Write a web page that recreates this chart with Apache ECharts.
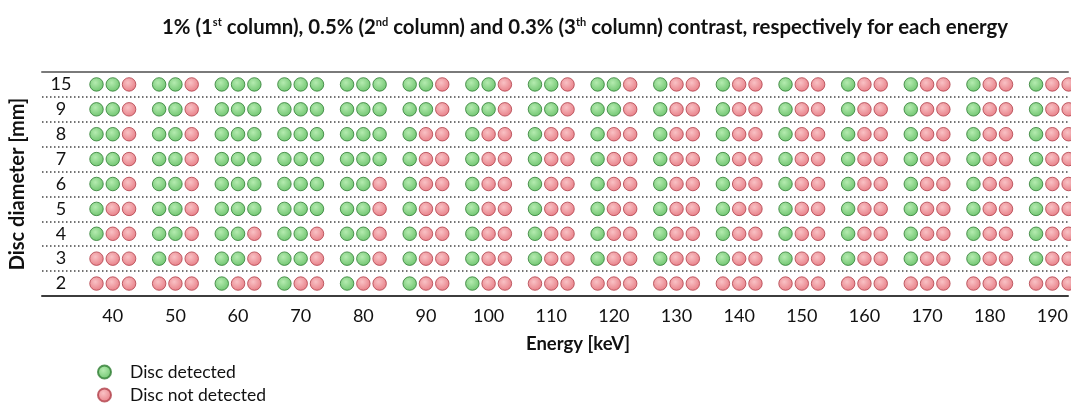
<!DOCTYPE html>
<html>
<head>
<meta charset="utf-8">
<script src="https://cdn.jsdelivr.net/npm/echarts@6/dist/echarts.min.js"></script>
<style>
  html, body { margin: 0; padding: 0; background: #fff; overflow: hidden; }
  #chart { width: 1071px; height: 403px; }
</style>
</head>
<body>
<div id="chart"></div>
<script>
// Tube energies (keV), one group of three discs per energy
const energies = [40, 50, 60, 70, 80, 90, 100, 110, 120, 130, 140, 150, 160, 170, 180, 190];
// Disc diameters (mm), listed bottom to top
const diameters = ['2', '3', '4', '5', '6', '7', '8', '9', '15'];
// Contrast levels, left to right inside each energy group
const contrasts = ['1%', '0.5%', '0.3%'];
// Horizontal spread of the three contrast columns around each energy (keV)
const contrastShift = [-2.6, 0, 2.6];
// Observer result per diameter (same order as diameters); one triplet per energy,
// G = disc detected, R = disc not detected, in contrast order 1%, 0.5%, 0.3%
const detectionRows = [
  'RRR RRR GRR GRR GRR GRR GRR RRR RRR RRR RRR RRR RRR RRR RRR RRR', // 2
  'RRR GRR GGR GGR GGR GRR GRR GRR GRR GRR GRR GRR GRR GRR GRR GRR', // 3
  'GRR GGR GGR GGR GGR GRR GRR GRR GRR GRR GRR GRR GRR GRR GRR GRR', // 4
  'GRR GGR GGG GGG GGR GRR GRR GRR GRR GRR GRR GRR GRR GRR GRR GRR', // 5
  'GGR GGR GGG GGG GGR GRR GRR GRR GRR GRR GRR GRR GRR GRR GRR GRR', // 6
  'GGR GGR GGG GGG GGG GRR GRR GRR GRR GRR GRR GRR GRR GRR GRR GRR', // 7
  'GGR GGR GGG GGG GGG GRR GRR GRR GRR GRR GRR GRR GRR GRR GRR GRR', // 8
  'GGR GGR GGG GGG GGG GGR GGR GGR GGR GRR GRR GRR GRR GRR GRR GRR', // 9
  'GGR GGR GGG GGG GGG GGR GGR GGR GGR GRR GRR GRR GRR GRR GRR GRR'  // 15
];
const seriesNames = ['Disc detected', 'Disc not detected'];

const detected = [];
const notDetected = [];
detectionRows.forEach(function (row, r) {
  row.split(' ').forEach(function (triplet, e) {
    for (let c = 0; c < contrasts.length; c++) {
      const point = [energies[e] + contrastShift[c], diameters[r]];
      (triplet[c] === 'G' ? detected : notDetected).push(point);
    }
  });
});

function discFill(light, dark) {
  return {
    type: 'radial', x: 0.42, y: 0.38, r: 0.62,
    colorStops: [{ offset: 0, color: light }, { offset: 1, color: dark }]
  };
}

const FONT = 'Lato, "Open Sans", sans-serif';
const legendText = { fontFamily: FONT, fontSize: 17.5, color: '#111', padding: [0, 0, 0, 14] };

function legendFor(name, top) {
  return {
    data: [name],
    orient: 'vertical',
    left: 92,
    top: top,
    itemWidth: 13,
    itemHeight: 13,
    icon: 'circle',
    selectedMode: false,
    textStyle: legendText
  };
}

// x range: the plot ends at the page edge, cutting through the last energy group
const X_MIN = 28.7;
const X_MAX = 192.5;

const chart = echarts.init(document.getElementById('chart'), null, { renderer: 'canvas' });

chart.setOption({
  animation: false,
  backgroundColor: '#ffffff',
  textStyle: { fontFamily: FONT },
  title: {
    text: '1% (1{sup|st} column), 0.5% (2{sup|nd} column) and 0.3% (3{sup|th} column) contrast, respectively for each energy',
    left: 580,
    top: 12,
    textAlign: 'center',
    textStyle: {
      fontFamily: FONT,
      fontSize: 20.4,
      fontWeight: 'bold',
      color: '#111',
      rich: {
        sup: { fontSize: 11, fontWeight: 'bold', color: '#111', padding: [0, 0, 10, 0], fontFamily: FONT }
      }
    }
  },
  legend: [legendFor(seriesNames[0], 358), legendFor(seriesNames[1], 381)],
  grid: { left: 41, right: 0, top: 72, bottom: 107, containLabel: false },
  xAxis: [
    {
      type: 'value',
      min: X_MIN,
      max: X_MAX,
      position: 'bottom',
      name: 'Energy [keV]',
      nameLocation: 'middle',
      nameGap: 39,
      nameTextStyle: { fontFamily: FONT, fontSize: 18.5, fontWeight: 'bold', color: '#111', padding: [0, 0, 0, 46] },
      axisLine: { show: true, onZero: false, lineStyle: { color: '#3c3c3c', width: 2 } },
      axisTick: { show: false },
      splitLine: { show: false },
      axisLabel: {
        customValues: energies,
        margin: 11,
        fontFamily: FONT,
        fontSize: 18,
        color: '#111'
      }
    },
    {
      type: 'value',
      min: X_MIN,
      max: X_MAX,
      position: 'top',
      axisLine: { show: true, onZero: false, lineStyle: { color: '#7a7a7a', width: 2 } },
      axisTick: { show: false },
      axisLabel: { show: false },
      splitLine: { show: false }
    }
  ],
  yAxis: {
    type: 'category',
    data: diameters,
    boundaryGap: true,
    name: 'Disc diameter [mm]',
    nameLocation: 'middle',
    nameRotate: 90,
    nameGap: 14,
    nameTextStyle: { fontFamily: FONT, fontSize: 20, fontWeight: 'bold', color: '#111' },
    axisLine: { show: false },
    axisTick: { show: false },
    axisLabel: {
      inside: true,
      align: 'center',
      margin: 19,
      fontFamily: FONT,
      fontSize: 18,
      color: '#111'
    },
    splitLine: {
      show: true,
      lineStyle: { color: '#444', width: 1.5, type: [1.5, 2.5] }
    }
  },
  series: [
    {
      name: seriesNames[0],
      type: 'scatter',
      data: detected,
      clip: false,
      symbol: 'circle',
      symbolSize: 13.5,
      itemStyle: { color: discFill('#a2e69c', '#4db74d'), borderColor: '#2f7d33', borderWidth: 1 },
      z: 3
    },
    {
      name: seriesNames[1],
      type: 'scatter',
      data: notDetected,
      clip: false,
      symbol: 'circle',
      symbolSize: 13.5,
      itemStyle: { color: discFill('#f7b2b6', '#e2606a'), borderColor: '#b0404a', borderWidth: 1 },
      z: 3
    }
  ]
});
</script>
</body>
</html>
